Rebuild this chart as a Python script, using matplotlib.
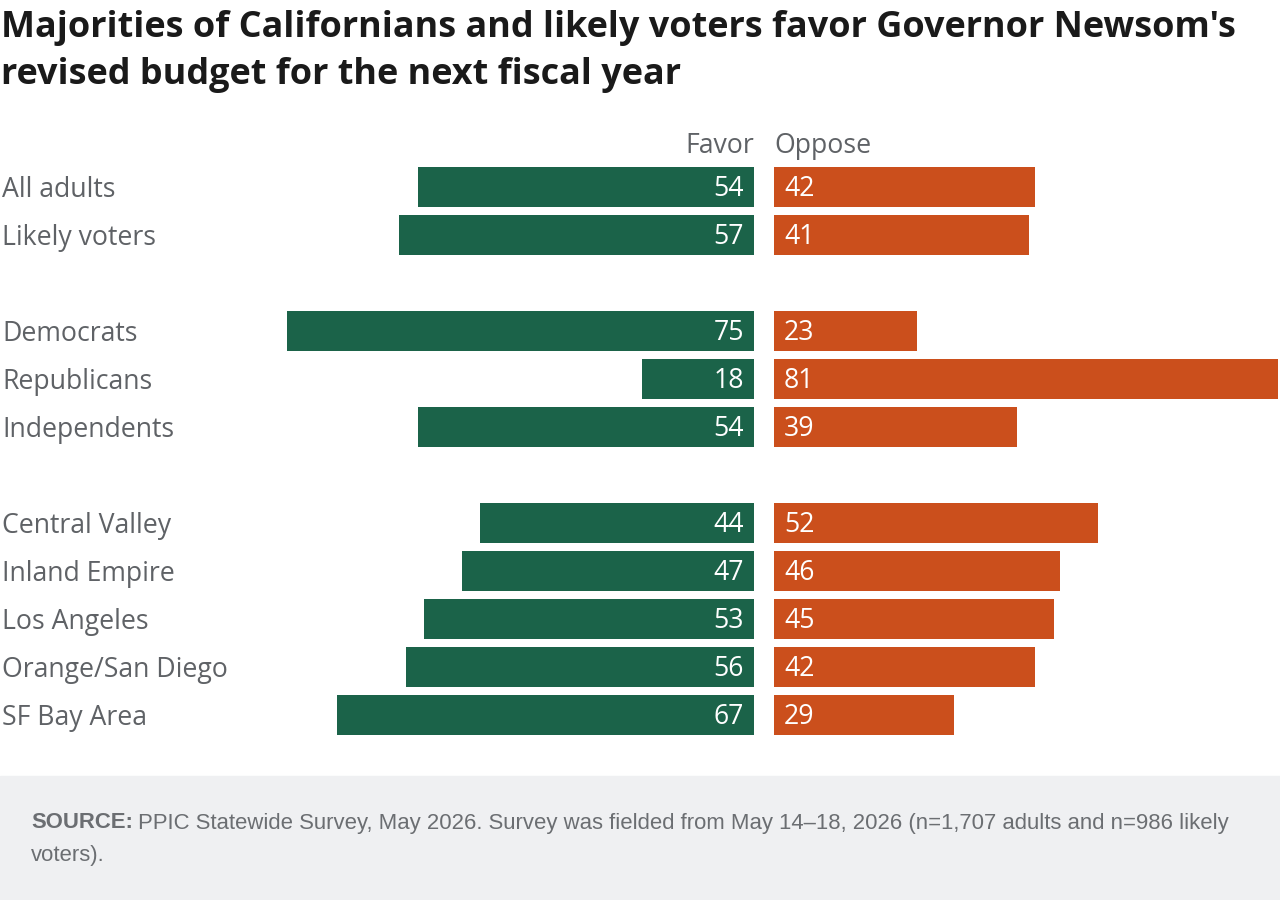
import matplotlib.pyplot as plt
from matplotlib.patches import Rectangle

groups = ["All adults", "Likely voters", None,
          "Democrats", "Republicans", "Independents", None,
          "Central Valley", "Inland Empire", "Los Angeles", "Orange/San Diego", "SF Bay Area"]
favor = [54, 57, None, 75, 18, 54, None, 44, 47, 53, 56, 67]
oppose = [42, 41, None, 23, 81, 39, None, 52, 46, 45, 42, 29]

GREEN = "#1b6349"
ORANGE = "#cb4f1c"
GRAY = "#5f6266"
FONT = "Open Sans"
FS = 19.2

W, H = 1280, 900
fig = plt.figure(figsize=(12.8, 9), dpi=100)

# bars: favor axis right edge at x=754, oppose axis starts at x=774
bot = 1 - 739 / H
ht = 576 / H
axl = fig.add_axes([250 / W, bot, 504 / W, ht])
axr = fig.add_axes([774 / W, bot, 504 / W, ht])

ypos = [i for i, g in enumerate(groups) if g is not None]
fv = [favor[i] for i in ypos]
ov = [oppose[i] for i in ypos]

axl.barh(ypos, fv, height=40 / 48, color=GREEN)
axr.barh(ypos, ov, height=40 / 48, color=ORANGE)
axl.set_xlim(81, 0)
axr.set_xlim(0, 81)
for ax in (axl, axr):
    ax.set_ylim(11.5, -0.5)
    ax.axis("off")

for y, v in zip(ypos, fv):
    axl.annotate(str(v), (0, y), xytext=(-10, -2), textcoords="offset pixels",
                 ha="right", va="center", color="white", fontsize=FS, family=FONT)
for y, v in zip(ypos, ov):
    axr.annotate(str(v), (0, y), xytext=(10, -2), textcoords="offset pixels",
                 ha="left", va="center", color="white", fontsize=FS, family=FONT)

# category labels
for y in ypos:
    fig.text(2 / W, 1 - (190 + 48 * y) / H, groups[y], ha="left", va="center",
             fontsize=FS, color=GRAY, family=FONT)

fig.text(754 / W, 1 - 146 / H, "Favor", ha="right", va="center",
         fontsize=FS, color=GRAY, family=FONT)
fig.text(774 / W, 1 - 146 / H, "Oppose", ha="left", va="center",
         fontsize=FS, color=GRAY, family=FONT)

# title
fig.text(1 / W, 1 - 28 / H, "Majorities of Californians and likely voters favor Governor Newsom's",
         ha="left", va="center", fontsize=25.9, fontweight="bold", color="#1a1a1a", family=FONT)
fig.text(1 / W, 1 - 75 / H, "revised budget for the next fiscal year",
         ha="left", va="center", fontsize=25.9, fontweight="bold", color="#1a1a1a", family=FONT)

# footer
fig.patches.append(Rectangle((0, 0), 1, 124 / H, transform=fig.transFigure,
                             color="#eff0f2", zorder=0))
src = fig.text(31 / W, 1 - 823 / H, "SOURCE:", ha="left", va="center",
               fontsize=15.9, color="#6b6e72", family="Liberation Sans", fontweight="bold")
fig.canvas.draw()
bb = src.get_window_extent()
fig.text((bb.x1 + 5) / W, 1 - 823 / H,
         "PPIC Statewide Survey, May 2026. Survey was fielded from May 14\u201318, 2026 (n=1,707 adults and n=986 likely",
         ha="left", va="center", fontsize=15.9, color="#6b6e72", family="Liberation Sans")
fig.text(31 / W, 1 - 855 / H, "voters).", ha="left", va="center",
         fontsize=15.9, color="#6b6e72", family="Liberation Sans")

fig.savefig("out.png", dpi=100)
